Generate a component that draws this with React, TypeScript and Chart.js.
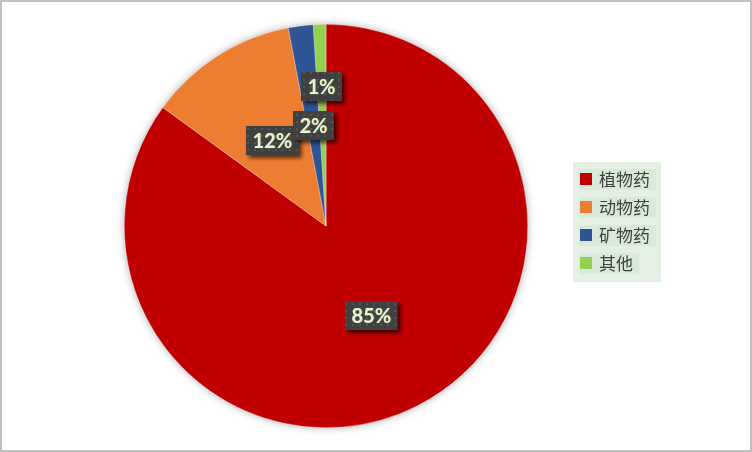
import React, { useEffect, useRef } from "react";
import { Chart, registerables } from "chart.js";

Chart.register(...registerables);

const categories = ["植物药", "动物药", "矿物药", "其他"];
const values = [85, 12, 2, 1];
const valueLabels = ["85%", "12%", "2%", "1%"];
const colors = ["#c00000", "#ed7d31", "#2f5597", "#92d050"];

function makePattern(ctx: CanvasRenderingContext2D) {
  const c = document.createElement("canvas");
  c.width = 7;
  c.height = 7;
  const p = c.getContext("2d")!;
  p.fillStyle = "#404040";
  p.fillRect(0, 0, 7, 7);
  p.fillStyle = "#555555";
  p.fillRect(2, 2, 2, 2);
  return ctx.createPattern(c, "repeat");
}

const shadowPlugin = {
  id: "pieShadow",
  beforeDatasetsDraw(chart: any) {
    const meta = chart.getDatasetMeta(0);
    const arc = meta.data[0];
    if (!arc) return;
    const { x, y, outerRadius } = arc;
    const ctx = chart.ctx;
    ctx.save();
    ctx.shadowColor = "rgba(0,0,0,0.35)";
    ctx.shadowBlur = 9;
    ctx.fillStyle = colors[0];
    ctx.beginPath();
    ctx.arc(x, y, outerRadius - 0.5, 0, Math.PI * 2);
    ctx.fill();
    ctx.restore();
  },
};

const labelPlugin = {
  id: "boxLabels",
  afterDatasetsDraw(chart: any, _args: any, opts: any) {
    const ctx = chart.ctx as CanvasRenderingContext2D;
    const meta = chart.getDatasetMeta(0);
    const pattern = makePattern(ctx);
    const fracs: number[] = opts.fracs;
    meta.data.forEach((arc: any, i: number) => {
      const mid = (arc.startAngle + arc.endAngle) / 2;
      const r = arc.outerRadius * fracs[i];
      const cx = arc.x + Math.cos(mid) * r;
      const cy = arc.y + Math.sin(mid) * r;
      const text = valueLabels[i];
      ctx.save();
      ctx.font = "bold 20px Lato";
      const tw = ctx.measureText(text).width;
      const w = tw + 13;
      const h = 29;
      const bx = Math.round(cx - w / 2);
      const by = Math.round(cy - h / 2);
      ctx.shadowColor = "rgba(0,0,0,0.65)";
      ctx.shadowBlur = 4;
      ctx.shadowOffsetX = 3;
      ctx.shadowOffsetY = 3;
      ctx.fillStyle = pattern || "#404040";
      ctx.fillRect(bx, by, w, h);
      ctx.shadowColor = "rgba(220,200,60,0.6)";
      ctx.shadowBlur = 1;
      ctx.shadowOffsetX = 0.5;
      ctx.shadowOffsetY = 0.5;
      ctx.fillStyle = "#e2f4dc";
      ctx.textAlign = "center";
      ctx.textBaseline = "middle";
      ctx.fillText(text, bx + w / 2, by + h / 2 + 1);
      ctx.restore();
    });
  },
};

const legendPlugin = {
  id: "customLegend",
  afterDraw(chart: any) {
    const ctx = chart.ctx as CanvasRenderingContext2D;
    ctx.save();
    ctx.fillStyle = "#e3f0e3";
    ctx.fillRect(573, 162, 88, 120);
    ctx.font = "17px 'Noto Sans CJK SC'";
    categories.forEach((cat, i) => {
      const cy = 179 + i * 28;
      const tw = ctx.measureText(cat).width;
      ctx.fillStyle = "#d9ead9";
      ctx.fillRect(579, cy - 10, tw + 26, 21);
      ctx.fillStyle = colors[i];
      ctx.fillRect(580, cy - 6, 12, 12);
      ctx.fillStyle = "#404040";
      ctx.textBaseline = "middle";
      ctx.textAlign = "left";
      ctx.fillText(cat, 599, cy + 1);
    });
    ctx.strokeStyle = "#bfbfbf";
    ctx.lineWidth = 2;
    ctx.strokeRect(1, 1, chart.width - 2, chart.height - 2);
    ctx.restore();
  },
};

export default function App() {
  const ref = useRef<HTMLCanvasElement | null>(null);
  useEffect(() => {
    document.body.style.margin = "0";
    const chart = new Chart(ref.current!, {
      type: "pie",
      data: {
        labels: categories,
        datasets: [
          {
            data: values,
            backgroundColor: colors,
            borderColor: "rgba(255,255,255,0.6)",
            borderWidth: 0.6,
          },
        ],
      },
      options: {
        animation: false,
        responsive: false,
        layout: { padding: { left: 124, right: 224, top: 24, bottom: 24 } },
        plugins: {
          legend: { display: false },
          tooltip: { enabled: false },
          boxLabels: { fracs: [0.5, 0.5, 0.5, 0.69] },
        } as any,
      },
      plugins: [shadowPlugin, labelPlugin, legendPlugin],
    });
    return () => chart.destroy();
  }, []);
  return (
    <div style={{ position: "absolute", left: 0, top: 0, width: 752, height: 452, background: "#fff" }}>
      <canvas ref={ref} width={752} height={452} style={{ display: "block", width: 752, height: 452 }} />
    </div>
  );
}
